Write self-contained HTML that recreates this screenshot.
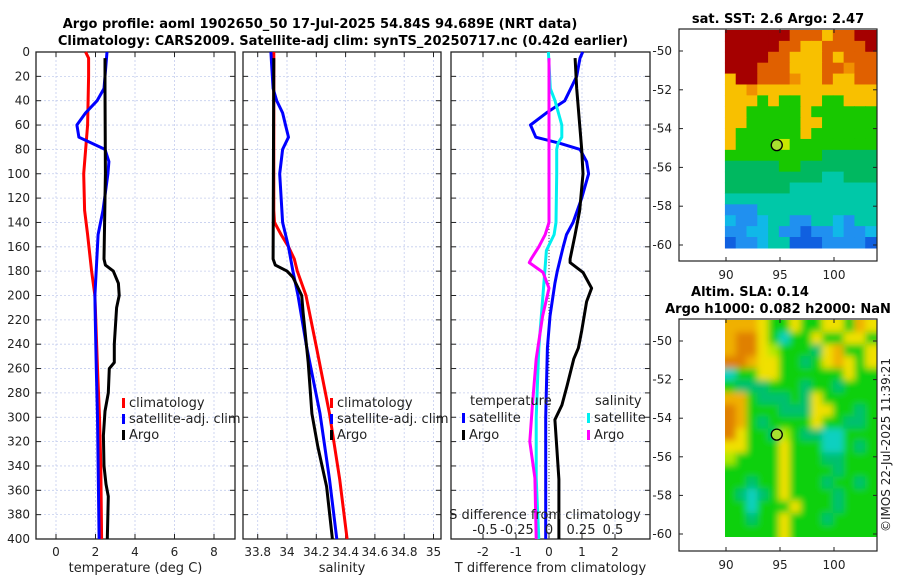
<!DOCTYPE html>
<html><head><meta charset="utf-8">
<style>
html,body{margin:0;padding:0;background:#fff;}
svg{display:block;font-family:"DejaVu Sans","Liberation Sans",sans-serif;}
</style></head>
<body>
<svg id="c" width="900" height="580" viewBox="0 0 900 580" xmlns="http://www.w3.org/2000/svg">
<defs>
<filter id="blur" x="-5%" y="-5%" width="110%" height="110%"><feGaussianBlur stdDeviation="3.5"/></filter>
<clipPath id="clipSla"><rect x="725" y="320" width="151.5" height="217"/></clipPath>
</defs>
<text x="320" y="28" font-size="13" font-weight="bold" text-anchor="middle">Argo profile: aoml 1902650_50 17-Jul-2025 54.84S 94.689E (NRT data)</text>
<text x="343" y="45" font-size="13" font-weight="bold" text-anchor="middle">Climatology: CARS2009. Satellite-adj clim: synTS_20250717.nc (0.42d earlier)</text>
<text x="778" y="23" font-size="13" font-weight="bold" text-anchor="middle">sat. SST: 2.6 Argo: 2.47</text>
<text x="750" y="296" font-size="13" font-weight="bold" text-anchor="middle">Altim. SLA: 0.14</text>
<text x="778" y="313" font-size="13" font-weight="bold" text-anchor="middle">Argo h1000: 0.082 h2000: NaN</text>
<text transform="translate(890,445) rotate(-90)" font-size="12" fill="#222" text-anchor="middle">©IMOS 22-Jul-2025 11:39:21</text>
</svg>
<script>
// ---------- data ----------
const depthTicks=[0,20,40,60,80,100,120,140,160,180,200,220,240,260,280,300,320,340,360,380,400];
const tempTicks=[0,2,4,6,8];
const salTicks=[33.8,34,34.2,34.4,34.6,34.8,35];
const tdiffTicks=[-2,-1,0,1,2];
const sdiffTicks=["-0.5","-0.25","0","0.25","0.5"];
const sdiffTickVals=[-0.5,-0.25,0,0.25,0.5];

const tClimDepth=[0,5,20,60,100,130,150,180,200,260,300,340,400];
const tClimVal=[1.5,1.65,1.65,1.6,1.4,1.45,1.6,1.8,1.97,2.1,2.2,2.27,2.31];
const tSatDepth=[0,30,40,50,60,70,80,90,100,130,150,200,220,260,300,400];
const tSatVal=[2.58,2.43,2.08,1.5,1.06,1.16,2.48,2.68,2.63,2.38,2.13,1.97,1.99,2.04,2.1,2.18];
const tArgoDepth=[5,30,100,170,175,180,190,200,210,240,255,260,280,295,315,340,355,365,400];
const tArgoVal=[2.48,2.48,2.5,2.43,2.5,2.9,3.16,3.2,3.07,2.95,2.95,2.7,2.65,2.48,2.4,2.43,2.53,2.65,2.6];

const sClimDepth=[0,130,140,150,160,170,180,200,242,297,351,400];
const sClimVal=[33.91,33.91,33.915,33.96,34.01,34.05,34.07,34.13,34.2,34.29,34.36,34.41];
const sSatDepth=[0,10,30,40,50,60,70,80,100,140,160,180,200,242,297,351,400];
const sSatVal=[33.89,33.895,33.905,33.93,33.97,33.99,34.01,33.97,33.95,33.97,34.01,34.04,34.075,34.134,34.225,34.29,34.34];
const sArgoDepth=[5,170,175,180,185,200,214,255,297,324,357,400];
const sArgoVal=[33.91,33.905,33.92,34.0,34.04,34.1,34.11,34.145,34.17,34.21,34.27,34.31];

const dtSatDepth=[0,5,20,40,50,60,70,75,80,90,100,120,140,150,160,180,190,217,243,300,400];
const dtSatVal=[1.02,0.94,0.84,0.48,-0.08,-0.56,-0.4,0.33,0.94,1.14,1.2,0.99,0.73,0.53,0.43,0.25,0.18,0.03,-0.05,-0.1,-0.1];
const dtArgoDepth=[5,30,80,100,130,150,170,173,181,194,205,229,243,252,274,290,302,319,351,400];
const dtArgoVal=[0.79,0.84,0.99,1.03,0.93,0.79,0.64,0.64,1.03,1.29,1.14,0.99,0.89,0.75,0.55,0.39,0.18,0.22,0.3,0.3];
const dsSatDepth=[0,30,40,60,70,75,80,100,140,150,163,190,217,243,300,350,400];
const dsSatVal=[-0.005,0.01,0.047,0.1,0.1,0.07,0.06,0.06,0.055,0.04,-0.02,-0.04,-0.06,-0.08,-0.1,-0.1,-0.08];
const dsArgoDepth=[5,140,150,160,170,173,181,194,217,252,290,320,350,400];
const dsArgoVal=[0,0,-0.03,-0.08,-0.14,-0.154,-0.047,0,-0.05,-0.1,-0.13,-0.15,-0.11,-0.1];

const latTicks=[-50,-52,-54,-56,-58,-60];
const lonTicks=[90,95,100];
const argoLon=94.7, argoLat=-54.85;
const sstColors={R:"#a50000",r:"#c82000",O:"#e06000",o:"#f09000",Y:"#f8c000",y:"#c8e800",G:"#18c800",g:"#00b860",T:"#00c8a8",c:"#10b8e8",B:"#2090f0",D:"#1060e0"};
const sstGrid=["RRRRRROOOYOORR","RRRRROOYYOOOOR","RRRROOYYYOYOOO","RRROOOYYYOOoOO","YRROOOoYYOYYOO","YYoYYYYYYYYYYY","YYYGYGGYYGGYYY","YYGGGGGYGGGGGG","YYGGGGGYYGGGGG","YGGGGGGYGGGGGG","YGGGGyGGGGGGGG","GGGGGGGGGggggg","gggggGGggggggg","gggggggggTTggg","ggggggTTTTTTTT","TTTTTTTTTTTTTT","BBBTTTTTTTTTTT","cBBcTTBBTTcBTT","BBccTBBDBBcBBc","DBBcTTDDDBBBBD"];
const slaColors={G:"#10d010",t:"#00c070",T:"#10d0c0",y:"#b0e800",Y:"#f0e000",O:"#f0b000",R:"#e08000"};
const slaGrid=["OOOYGGYGGYYGOY","ORRYGTGGYGGYYG","ORRYyGGGtYOGGY","RROYYGGtGYOYGY","TGGYYGGGGGGYGG","GtttGGGtGGtGGG","OOGtttGtYGGGGG","ROGGGtttYYGGtG","ROGtGGGGYGGttG","RYGGtyGttTTGGG","YYGGGYGGGTTGtG","yGGGGYGGGttGGG","GGGGGYGGGGtGGG","GGtGGYGGGtGGtG","GtTtGYGGGGtGGG","GGTGGGYGGGtGGG","GGtGGYGGGtGGGG","GGGGGYGGGGGGGG"];

// ---------- drawing ----------
const svg=document.getElementById('c');
const NS="http://www.w3.org/2000/svg";
function mk(tag,attrs,parent){const e=document.createElementNS(NS,tag);for(const k in attrs)e.setAttribute(k,attrs[k]);(parent||svg).appendChild(e);return e;}
const Y0=52,Y1=539;
const yD=d=>Y0+d*(Y1-Y0)/400;
function lin(d0,d1,p0,p1){return v=>p0+(v-d0)*(p1-p0)/(d1-d0);}

function panel(name,x0,x1,xs,ticks,tickLabels,xlabel,showY){
  const g=mk('g',{});
  
  
  ticks.forEach(t=>{const x=xs(t);const l=mk('line',{x1:x,x2:x,y1:Y0,y2:Y1,stroke:'#c4cdee','stroke-width':0.8,'stroke-dasharray':'2,2'},g);});
  depthTicks.forEach(d=>{const y=yD(d);const l=mk('line',{x1:x0,x2:x1,y1:y,y2:y,stroke:'#c4cdee','stroke-width':0.8,'stroke-dasharray':'2,2'},g);
    mk('line',{x1:x0,x2:x0+5,y1:y,y2:y,stroke:'#222'},g);mk('line',{x1:x1-5,x2:x1,y1:y,y2:y,stroke:'#222'},g);
    if(showY){const t=mk('text',{x:x0-6,y:y+4,'font-size':12,'text-anchor':'end',fill:'#222'},g);t.textContent=d;}
  });
  ticks.forEach((t,i)=>{const x=xs(t);mk('line',{x1:x,x2:x,y1:Y1,y2:Y1-5,stroke:'#222'},g);mk('line',{x1:x,x2:x,y1:Y0,y2:Y0+5,stroke:'#222'},g);
    const tx=mk('text',{x:x,y:556,'font-size':12,'text-anchor':'middle',fill:'#222'},g);tx.textContent=tickLabels[i];});
  const r=mk('rect',{x:x0,y:Y0,width:x1-x0,height:Y1-Y0,fill:'none',stroke:'#222','stroke-width':1.3},g);
  
  const xl=mk('text',{x:(x0+x1)/2,y:572,'font-size':13,'text-anchor':'middle',fill:'#222'},g);xl.textContent=xlabel;
  
  return g;
}
function series(g,name,depths,vals,xs,color,w){
  const pts=depths.map((d,i)=>xs(vals[i]).toFixed(1)+','+yD(d).toFixed(1)).join(' ');
  const p=mk('polyline',{points:pts,fill:'none',stroke:color,'stroke-width':w||3,'stroke-linejoin':'round'},g);
  
  
}
function legend(g,x,y,color,label,name){
  mk('rect',{x:x,y:y-9,width:3,height:10,fill:color},g);
  const t=mk('text',{x:x+7,y:y,'font-size':13,fill:'#222'},g);t.textContent=label;
  
}

// Panel 1: temperature
const xT=lin(0,8,56,214);
const g1=panel('temperature-panel',36,235,xT,tempTicks,tempTicks,'temperature (deg C)',true);
series(g1,'temp-climatology-line',tClimDepth,tClimVal,xT,'#ff0000');
series(g1,'temp-satellite-line',tSatDepth,tSatVal,xT,'#0000ff');
series(g1,'temp-argo-line',tArgoDepth,tArgoVal,xT,'#000000');
legend(g1,122,407,'#ff0000','climatology','legend-climatology');
legend(g1,122,423,'#0000ff','satellite-adj. clim','legend-satellite-adj');
legend(g1,122,439,'#000000','Argo','legend-argo');

// Panel 2: salinity
const xS=lin(34,35,287,433.5);
const g2=panel('salinity-panel',243,441,xS,salTicks,salTicks.map(s=>s===34||s===35?String(s):s.toFixed(1)),'salinity',false);
series(g2,'sal-climatology-line',sClimDepth,sClimVal,xS,'#ff0000');
series(g2,'sal-satellite-line',sSatDepth,sSatVal,xS,'#0000ff');
series(g2,'sal-argo-line',sArgoDepth,sArgoVal,xS,'#000000');
legend(g2,330,407,'#ff0000','climatology','legend-climatology');
legend(g2,330,423,'#0000ff','satellite-adj. clim','legend-satellite-adj');
legend(g2,330,439,'#000000','Argo','legend-argo');

// Panel 3: differences
const xDT=lin(0,1,549,582);
const xDS=lin(0,0.25,549,581);
const g3=panel('difference-panel',451,650,xDT,tdiffTicks,tdiffTicks,'T difference from climatology',false);
mk('line',{x1:549,x2:549,y1:Y0,y2:Y1,stroke:'#444','stroke-width':1,'stroke-dasharray':'1,2'},g3);
series(g3,'tdiff-satellite-line',dtSatDepth,dtSatVal,xDT,'#0000ff');
series(g3,'tdiff-argo-line',dtArgoDepth,dtArgoVal,xDT,'#000000');
series(g3,'sdiff-satellite-line',dsSatDepth,dsSatVal,xDS,'#00f0f0');
series(g3,'sdiff-argo-line',dsArgoDepth,dsArgoVal,xDS,'#ff00ff');
{const t=mk('text',{x:470,y:405,'font-size':13,fill:'#222'},g3);t.textContent='temperature';}
{const t=mk('text',{x:595,y:405,'font-size':13,fill:'#222'},g3);t.textContent='salinity';}
legend(g3,462,422,'#0000ff','satellite','legend-t-satellite');
legend(g3,462,439,'#000000','Argo','legend-t-argo');
legend(g3,587,422,'#00f0f0','satellite','legend-s-satellite');
legend(g3,587,439,'#ff00ff','Argo','legend-s-argo');
{const t=mk('text',{x:545,y:519,'font-size':13,'text-anchor':'middle',fill:'#222'},g3);t.textContent='S difference from climatology';}
sdiffTickVals.forEach((v,i)=>{const t=mk('text',{x:xDS(v),y:534,'font-size':13,'text-anchor':'middle',fill:'#222'},g3);t.textContent=sdiffTicks[i];});

// Maps
function map(name,by0,by1,latY,grid,colors,smooth){
  const g=mk('g',{});
  
  
  const lonX=lin(90,100,726,834);
  const dx0=lonX(89.9), dx1=876, dy0=by0+1, dy1=latY(-60.15);
  const rows=grid.length, cols=grid[0].length;
  const cw=(dx1-dx0)/cols, ch=(dy1-dy0)/rows;
  const outer=mk('g',smooth?{'clip-path':'url(#clipSla)'}:{},g);
  const cells=mk('g',smooth?{filter:'url(#blur)'}:{},outer);
  if(smooth) mk('rect',{x:dx0-8,y:dy0-8,width:dx1-dx0+16,height:dy1-dy0+16,fill:colors.G},cells);
  grid.forEach((row,r)=>{for(let c=0;c<cols;c++){
    const ext=smooth?6:0;
    const x=dx0+c*cw-(c===0?ext:0), y=dy0+r*ch-(r===0?ext:0);
    const w=cw+0.6+(c===0||c===cols-1?ext:0), h=ch+0.6+(r===0||r===rows-1?ext:0);
    const cell=mk('rect',{x:x.toFixed(2),y:y.toFixed(2),width:w.toFixed(2),height:h.toFixed(2),fill:colors[row[c]]},cells);
    
    
  }});
  latTicks.forEach(l=>{const y=latY(l);mk('line',{x1:877,x2:873,y1:y,y2:y,stroke:'#222'},g);mk('line',{x1:679,x2:683,y1:y,y2:y,stroke:'#222'},g);
    const t=mk('text',{x:672,y:y+4,'font-size':12,'text-anchor':'end',fill:'#222'},g);t.textContent=l;});
  lonTicks.forEach(l=>{const x=lonX(l);mk('line',{x1:x,x2:x,y1:by1,y2:by1-4,stroke:'#222'},g);mk('line',{x1:x,x2:x,y1:by0,y2:by0+4,stroke:'#222'},g);
    const t=mk('text',{x:x,y:by1+18,'font-size':12,'text-anchor':'middle',fill:'#222'},g);t.textContent=l;});
  const fr=mk('rect',{x:679,y:by0,width:198,height:by1-by0,fill:'none',stroke:'#222','stroke-width':1.2},g);
  
  const m=mk('circle',{cx:lonX(argoLon),cy:latY(argoLat),r:5.5,fill:'#a8e030',stroke:'#000','stroke-width':1.3},g);
  
}
map('sst-map',29,261,lin(-50,-60,51,245),sstGrid,sstColors,false);
map('sla-map',319,551,lin(-50,-60,341,534),slaGrid,slaColors,true);
</script>
</body></html>
